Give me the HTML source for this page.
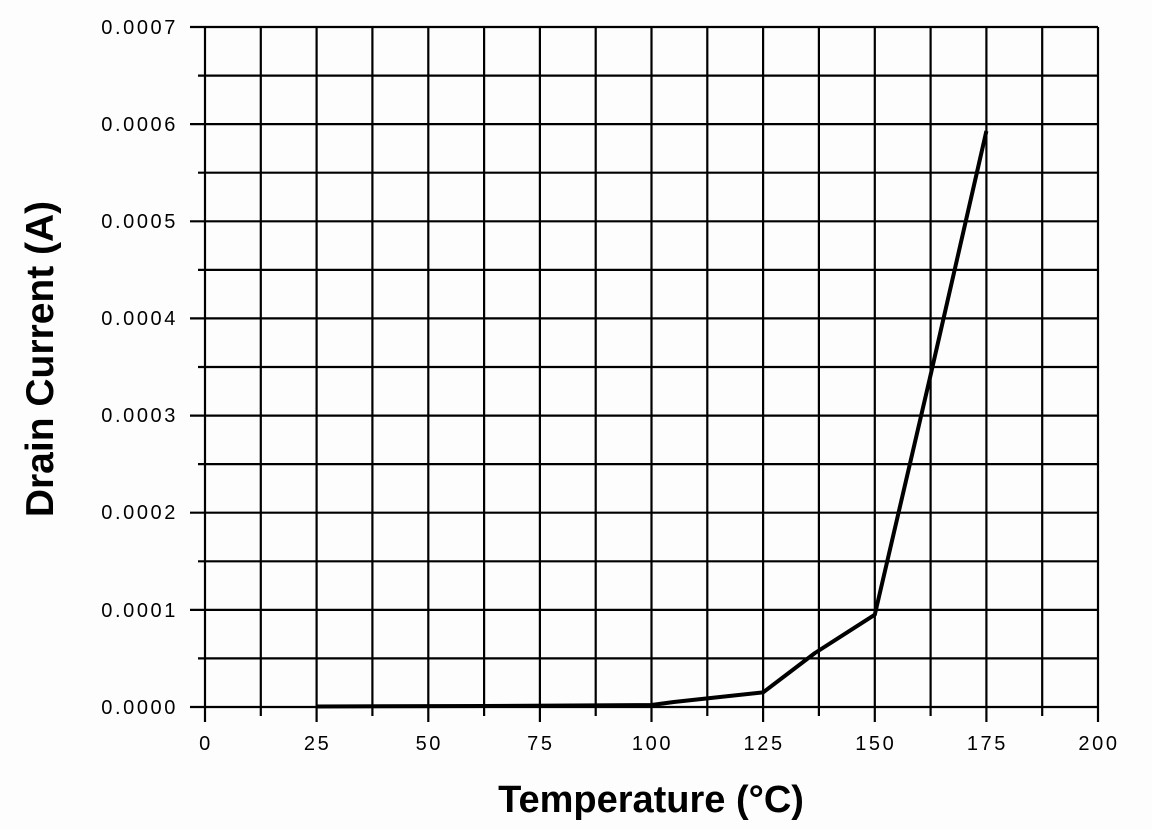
<!DOCTYPE html>
<html><head><style>body{margin:0;background:#fff}svg{display:block}</style></head><body>
<svg width="1152" height="830" xmlns="http://www.w3.org/2000/svg">
<rect width="1152" height="830" fill="#fdfdfd"/>
<g stroke="#000" stroke-width="2.2" fill="none">
<path d="M205 27V722M260.8 27V716M316.6 27V722M372.4 27V716M428.3 27V722M484.1 27V716M539.9 27V722M595.7 27V716M651.5 27V722M707.3 27V716M763.1 27V722M818.9 27V716M874.8 27V722M930.6 27V716M986.4 27V722M1042.2 27V716M1098 27V722"/>
<path d="M190 27H1098M198 75.6H1098M190 124.1H1098M198 172.7H1098M190 221.3H1098M198 269.9H1098M190 318.4H1098M198 367H1098M190 415.6H1098M198 464.1H1098M190 512.7H1098M198 561.3H1098M190 609.9H1098M198 658.4H1098M190 707H1098"/>
<polyline stroke-width="4" stroke-linejoin="round" points="316.6,706.5 484,706 651.5,705 673.8,702 720,697 763.1,692.4 815,653 874.8,614.7 930.6,375 986.4,131"/>
</g>
<g font-family="Liberation Sans, sans-serif" font-size="20" fill="#000" text-anchor="end" letter-spacing="2.6">
<text x="178" y="34">0.0007</text>
<text x="178" y="131">0.0006</text>
<text x="178" y="228">0.0005</text>
<text x="178" y="325">0.0004</text>
<text x="178" y="422">0.0003</text>
<text x="178" y="519">0.0002</text>
<text x="178" y="617">0.0001</text>
<text x="178" y="714">0.0000</text>
</g>
<g font-family="Liberation Sans, sans-serif" font-size="20" fill="#000" text-anchor="middle" letter-spacing="2.6">
<text x="206" y="750">0</text>
<text x="317.6" y="750">25</text>
<text x="429.3" y="750">50</text>
<text x="540.9" y="750">75</text>
<text x="652.5" y="750">100</text>
<text x="764.1" y="750">125</text>
<text x="875.8" y="750">150</text>
<text x="987.4" y="750">175</text>
<text x="1099" y="750">200</text>
</g>
<text x="651" y="812" font-family="Liberation Sans, sans-serif" font-size="38" font-weight="bold" text-anchor="middle">Temperature (°C)</text>
<text transform="translate(53,359) rotate(-90)" font-family="Liberation Sans, sans-serif" font-size="39" font-weight="bold" text-anchor="middle">Drain Current (A)</text>
</svg>
</body></html>
